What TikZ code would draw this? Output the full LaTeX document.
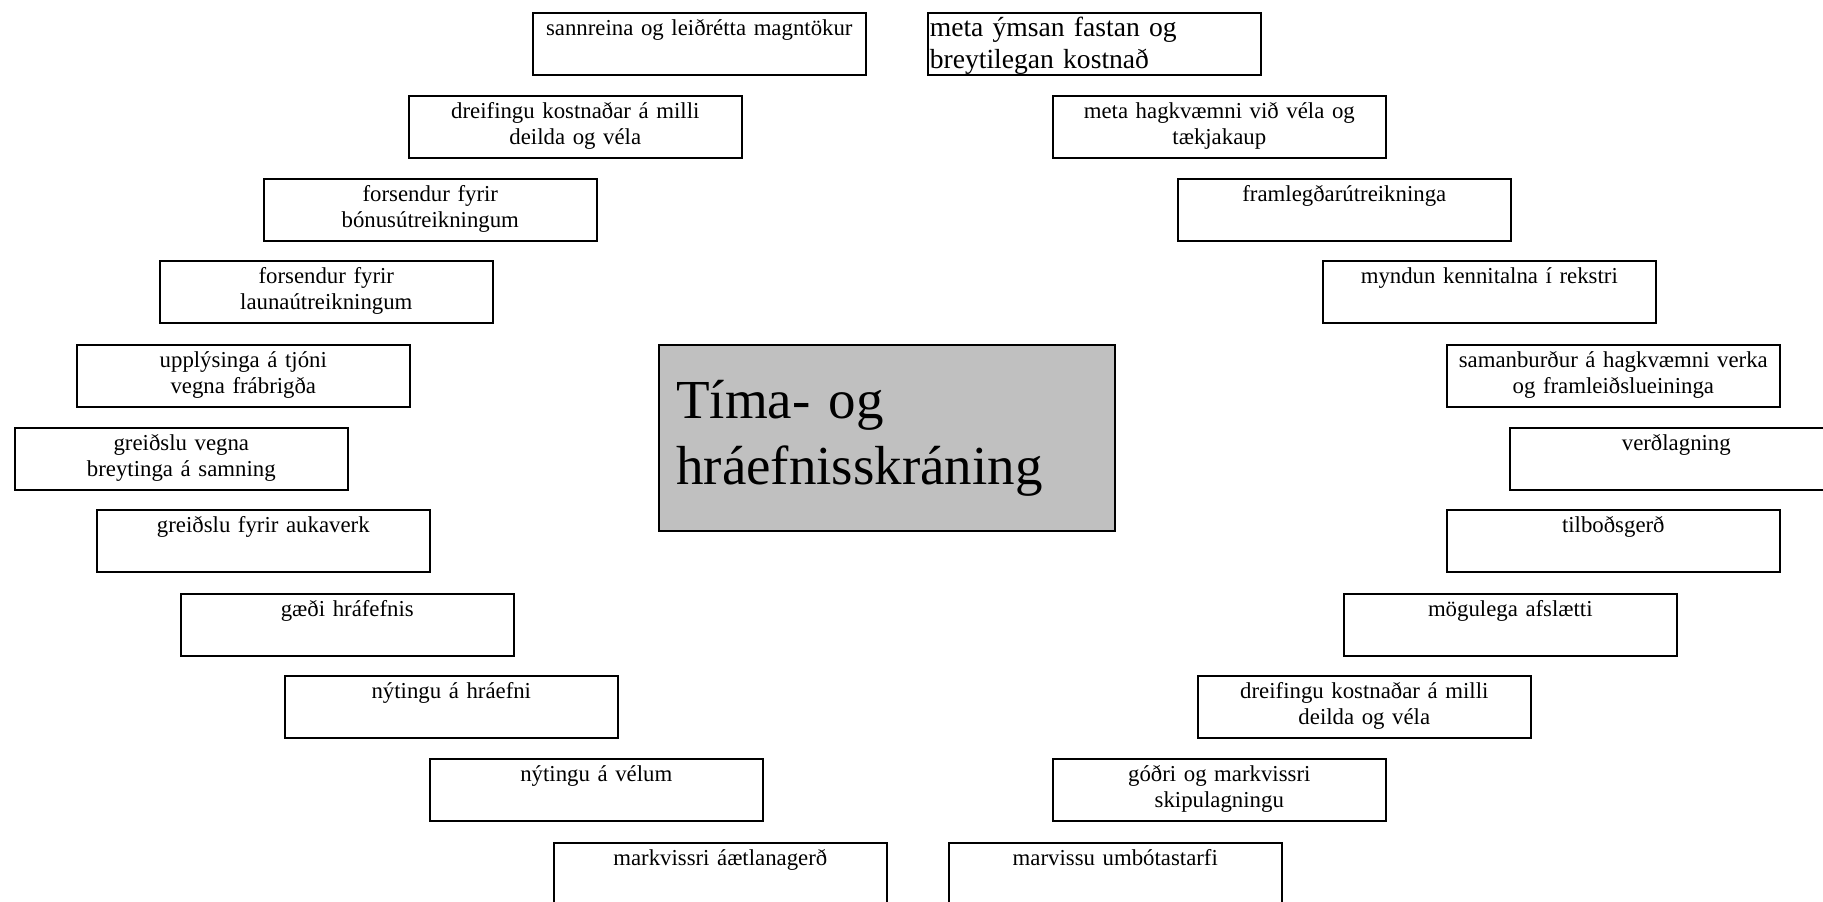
\documentclass[tikz,border=0pt]{standalone}
\usepackage{fontspec}
\setmainfont{Liberation Serif}
\usetikzlibrary{positioning}

\begin{document}
\begin{tikzpicture}[
  x=0.5pt, y=-0.5pt,
  item/.style={draw, line width=0.8pt, anchor=north west, inner sep=0pt,
    text width=166.5pt, align=center, text height=11.2pt, text depth=19.8pt,
    font=\fontsize{11.4}{13}\selectfont},
  core/.style={draw, line width=0.8pt, anchor=north west, fill=coregray,
    inner xsep=8.7pt, inner ysep=0pt, text width=210.6pt, align=left,
    text height=37pt, text depth=56pt,
    font=\fontsize{27.5}{32.6}\selectfont}
]
\definecolor{coregray}{RGB}{192,192,192}
\useasboundingbox (0,0) rectangle (1823,901);
\node[core] (tima) at (658,344) {Tíma- og\\hráefnisskráning};

\node[item] (l1) at (532,12) {sannreina og leiðrétta magntökur};
\node[item] (l2) at (408,95) {dreifingu kostnaðar á milli\\deilda og véla};
\node[item] (l3) at (263,178) {forsendur fyrir\\bónusútreikningum};
\node[item] (l4) at (159,260) {forsendur fyrir\\launaútreikningum};
\node[item] (l5) at (76,344) {upplýsinga á tjóni\\vegna frábrigða};
\node[item] (l6) at (14,427) {greiðslu vegna\\breytinga á samning};
\node[item] (l7) at (96,509) {greiðslu fyrir aukaverk};
\node[item] (l8) at (180,593) {gæði hráfefnis};
\node[item] (l9) at (284,675) {nýtingu á hráefni};
\node[item] (l10) at (429,758) {nýtingu á vélum};
\node[item] (l11) at (553,842) {markvissri áætlanagerð};

\node[item, align=left, text width=164.5pt, inner xsep=1pt, text height=12pt,
  text depth=19pt, font=\fontsize{13.8}{15.7}\selectfont]
  (r1) at (927,12) {meta ýmsan fastan og\\breytilegan kostnað};
\node[item] (r2) at (1052,95) {meta hagkvæmni við véla og\\tækjakaup};
\node[item] (r3) at (1177,178) {framlegðarútreikninga};
\node[item] (r4) at (1322,260) {myndun kennitalna í rekstri};
\node[item] (r5) at (1446,344) {samanburður á hagkvæmni verka\\og framleiðslueininga};
\node[item] (r6) at (1509,427) {verðlagning};
\node[item] (r7) at (1446,509) {tilboðsgerð};
\node[item] (r8) at (1343,593) {mögulega afslætti};
\node[item] (r9) at (1197,675) {dreifingu kostnaðar á milli\\deilda og véla};
\node[item] (r10) at (1052,758) {góðri og markvissri\\skipulagningu};
\node[item] (r11) at (948,842) {marvissu umbótastarfi};
\end{tikzpicture}
\end{document}
